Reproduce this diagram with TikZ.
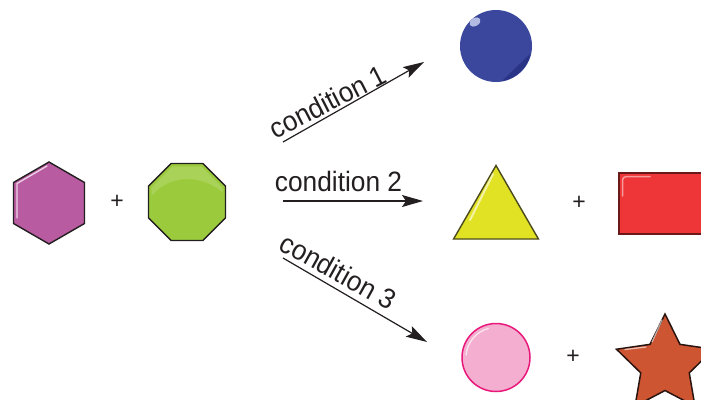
\documentclass[tikz,border=0pt]{standalone}
\usepackage{fontspec}
\setmainfont{Liberation Sans}
\usetikzlibrary{shapes.geometric,arrows.meta,calc}
\definecolor{ink}{HTML}{231F20}
\definecolor{hexfill}{HTML}{B85BA0}
\definecolor{octfill}{HTML}{9BCB3C}
\definecolor{bluefill}{HTML}{3A479C}
\definecolor{bluedark}{HTML}{2A3487}
\definecolor{bluehi}{HTML}{B4BBE2}
\definecolor{trifill}{HTML}{E2E224}
\definecolor{triedge}{HTML}{4B4A1C}
\definecolor{redfill}{HTML}{EE3537}
\definecolor{rededge}{HTML}{6B1818}
\definecolor{pinkfill}{HTML}{F4AECF}
\definecolor{pinkedge}{HTML}{E8197A}
\definecolor{starfill}{HTML}{CD5532}
\definecolor{staredge}{HTML}{2A1410}
\newcommand{\condtext}[1]{\scalebox{0.94}[1]{#1}}
\begin{document}
\begin{tikzpicture}[x=1pt,y=-1pt,
  shapebox/.style={inner sep=0pt, outer sep=0pt},
  poly/.style={shapebox, regular polygon, line width=1.4pt},
  plus/.style={text=ink, font=\fontsize{23}{26}\selectfont, inner sep=0pt},
  cond/.style={text=ink, font=\fontsize{28}{32}\selectfont, inner sep=0pt, anchor=base},
  flow/.style={draw=ink, line width=1.2pt, -{Stealth[length=21pt,width=12pt,inset=4pt]}},
  shine/.style={white, line width=1.3pt, opacity=0.75, line cap=round, line join=round}]
\useasboundingbox (0,0) rectangle (701,399);
% reactants
\node[poly, regular polygon sides=6, shape border rotate=30, minimum size=82pt, fill=hexfill, draw=ink] (hex) at (49,203) {};
\draw[shine] (47,166) -- (17,183.5) -- (17,218);
\node[plus] (p1) at (117,202) {+};
\node[poly, regular polygon sides=8, minimum size=83.4pt, fill=octfill, draw=ink] (oct) at (187,202) {};
\fill[white, opacity=0.15] (151.5,196) -- (151.5,187.5) -- (172.5,166.5) -- (201.5,166.5) -- (222.5,187.5) -- (222.5,192) .. controls (200,174) and (170,174) .. (151.5,196) -- cycle;
% arrows
\coordinate (a1s) at (283,142);
\coordinate (a1e) at (424,62);
\coordinate (a2s) at (283,201);
\coordinate (a2e) at (423,201);
\coordinate (a3s) at (283,258);
\coordinate (a3e) at (427,342);
\draw[flow] (a1s) -- (a1e);
\draw[flow] (a2s) -- (a2e);
\draw[flow] (a3s) -- (a3e);
\node[cond, rotate=27] (c1) at (332,110.5) {\condtext{condition 1}};
\node[cond] (c2) at (338.5,191) {\condtext{condition 2}};
\node[cond, rotate=-29] (c3) at (333.5,280) {\condtext{condition 3}};
% product 1
\node[shapebox, circle, minimum size=72pt, fill=bluefill] (blue) at (496,46) {};
\fill[bluedark] ($(496,46)+(12:35.5)$) arc[start angle=12, end angle=80, radius=35.5] -- cycle;
\fill[bluehi] (475,22) ellipse[x radius=6pt, y radius=4pt, rotate=30];
% product 2
\node[poly, regular polygon sides=3, minimum size=98pt, fill=trifill, draw=triedge] (tri) at (496,214.5) {};
\draw[shine, line width=2pt, opacity=0.6] (493,174) -- (470,220);
\node[plus] (p2) at (579,203) {+};
\node[shapebox, rectangle, minimum width=104pt, minimum height=61pt, fill=redfill, draw=rededge, line width=1.4pt] (rect) at (671,203.5) {};
\draw[shine, opacity=0.5, line width=1.5pt] (622.5,196) -- (622.5,181) .. controls (622.5,177) and (625,176.5) .. (629,176.5) -- (650,176.5);
% product 3
\node[shapebox, circle, minimum size=68pt, fill=pinkfill, draw=pinkedge, line width=1.5pt] (pink) at (496,357.5) {};
\draw[shine, opacity=0.7] ($(496,357.5)+(-105:30)$) arc[start angle=-105, end angle=-175, radius=30];
\node[plus] (p3) at (573,357) {+};
\node[shapebox, star, star points=5, star point ratio=2, minimum size=102pt, fill=starfill, draw=staredge, line width=1.5pt] (star) at (665,365) {};
\draw[shine, opacity=0.6] (662,320) -- (652,342);
\draw[shine, opacity=0.6] (646,347) -- (625,349.5);
\end{tikzpicture}
\end{document}
